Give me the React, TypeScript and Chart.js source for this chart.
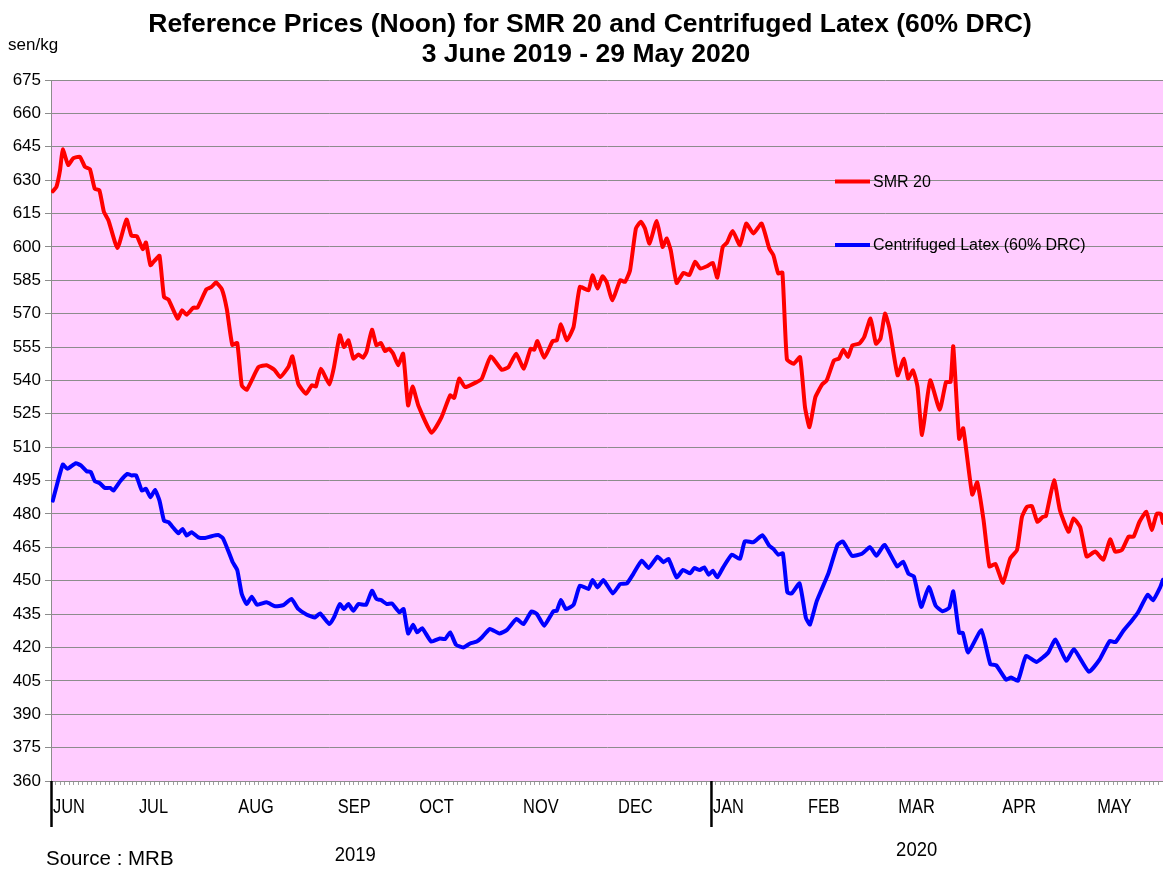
import React, { useEffect, useRef } from "react";
import { Chart, registerables } from "chart.js";

Chart.register(...registerables);

const TITLE_LINE_1 = "Reference Prices (Noon) for SMR 20 and Centrifuged Latex (60% DRC)";
const TITLE_LINE_2 = "3 June 2019 - 29 May 2020";
const UNIT_LABEL = "sen/kg";
const SOURCE_LABEL = "Source : MRB";

// x axis: trading-day index from 3 June 2019 (0) to 29 May 2020 (LAST_DAY)
const LAST_DAY = 246;
const MONTH_LABELS = ["JUN", "JUL", "AUG", "SEP", "OCT", "NOV", "DEC", "JAN", "FEB", "MAR", "APR", "MAY"];
const MONTH_START_DAYS = [0, 19, 41, 63, 81, 104, 125, 146, 167, 187, 210, 231];
const YEAR_LABELS = ["2019", "2020"];
const YEAR_LABEL_DAYS = [67.3, 191.5];
const YEAR_START_DAYS = [0, 146];

const Y_MIN = 360;
const Y_MAX = 675;
const Y_STEP = 15;

const SERIES_LABELS = ["SMR 20", "Centrifuged Latex (60% DRC)"];

const SMR_DAYS = [
  0.4, 1.2, 2.0, 2.6, 3.8, 4.9, 6.4, 7.5, 8.6, 9.7, 10.7, 11.7, 12.7, 14.7, 16.7, 17.8, 19.0, 20.3, 21.0, 22.0,
  23.0, 24.0, 25.0, 26.0, 28.0, 29.0, 30.0, 31.5, 32.4, 34.4, 35.5, 36.5, 37.8, 38.9, 40.1, 41.2, 42.2, 43.3,
  45.9, 47.7, 49.4, 50.7, 52.5, 53.4, 54.7, 56.4, 57.7, 58.6, 59.7, 61.6, 62.6, 63.9, 64.8, 65.8, 66.9, 68.0,
  69.0, 69.8, 71.0, 72.0, 73.0, 73.9, 74.8, 75.7, 76.8, 77.9, 79.0, 80.0, 81.3, 84.2, 86.4, 88.3, 89.2, 90.3,
  91.6, 94.2, 95.3, 97.3, 99.7, 101.2, 102.9, 104.6, 106.1, 106.9, 107.6, 109.1, 111.0, 111.9, 112.8, 114.1,
  115.6, 117.0, 118.9, 119.8, 120.9, 122.0, 122.9, 124.2, 125.9, 127.0, 128.1, 129.4, 130.5, 131.4, 132.4,
  134.0, 135.3, 136.2, 137.1, 138.4, 139.9, 141.2, 142.5, 143.6, 145.1, 146.4, 147.4, 148.6, 149.5, 150.8,
  152.4, 153.8, 155.4, 157.2, 158.9, 159.8, 160.9, 161.8, 162.8, 164.3, 165.7, 166.8, 167.8, 169.1, 170.6,
  171.6, 173.2, 174.3, 175.3, 176.3, 177.3, 178.8, 179.9, 181.3, 182.5, 183.5, 184.5, 185.5, 187.3, 188.7,
  189.6, 190.7, 191.7, 192.7, 194.5, 196.6, 198.0, 199.0, 199.6, 200.9, 201.8, 203.8, 204.9, 206.3, 207.6,
  208.9, 210.6, 212.2, 213.7, 214.8, 215.9, 217.0, 218.2, 219.4, 220.1, 221.9, 223.2, 225.1, 226.2, 227.7,
  229.1, 231.0, 232.8, 234.3, 235.4, 236.9, 238.4, 239.5, 240.8, 242.3, 243.5, 244.6, 245.5, 246.0,
];
const SMR_PRICES = [
  625, 627, 634.5, 643.8, 636.8, 639.8, 640.5, 636, 635, 626, 625.5, 615.8, 612, 599.5, 612.3, 605, 604.8, 599, 602, 591.8,
  594, 596, 577.5, 576.3, 567.8, 571.5, 569.5, 572.7, 572.7, 581, 582, 584, 581, 572, 556, 556.8, 537.8, 535.8,
  546, 546.8, 544.8, 541.5, 546, 550.8, 538.5, 534, 537.8, 537.3, 545.3, 538.2, 546, 560.3, 555, 558, 549.8, 551.7,
  550.2, 552.8, 562.8, 555.8, 556.8, 553.2, 554.3, 552, 546.8, 552, 528.8, 537.3, 528.5, 516.5, 523.5, 533.3, 532.2, 540.8,
  537, 539.3, 540.8, 550.8, 544.8, 546, 552, 545.3, 554.3, 553.8, 557.7, 550.2, 557.7, 558, 565.2, 558,
  564, 582, 580.5, 587.3, 581.3, 586.8, 584.3, 576, 585, 584.3, 589.5, 608.3, 611.3, 608.3, 601.5,
  611.7, 600, 603.8, 598.5, 583.8, 588.3, 587.3, 593.3, 590.3, 591.3, 592.8, 586.2, 600, 601.8, 607.2,
  600.8, 610.5, 606, 610.5, 599.3, 596.3, 588, 588.5, 549.5, 547.5, 550.5, 528, 519, 532.5, 538.2,
  540, 549, 549.8, 553.8, 550.5, 555.8, 556.5, 559.5, 567.8, 556.5, 558.8, 570, 563.3, 542.3, 549.8,
  540.8, 544.5, 537, 515.5, 540, 526.8, 539.3, 539.3, 555.3, 513.8, 518.5, 488.7, 494.2, 477.3, 456.4,
  457.6, 449, 460, 463.8, 478.7, 483.2, 483.5, 476.5, 478.7, 479, 495.1, 481.7, 472, 478, 474,
  460.9, 463.1, 459.4, 468.6, 463.1, 463.8, 469.8, 469.8, 476.5, 481, 472.8, 480, 480, 476,
];

const LATEX_DAYS = [
  0.4, 2.6, 3.6, 5.5, 6.6, 7.9, 8.8, 9.7, 10.8, 11.9, 13.1, 13.8, 15.3, 16.9, 17.8, 18.8, 20.1, 21.0, 22.0, 23.0,
  24.0, 25.0, 26.0, 27.1, 28.2, 29.1, 30.0, 31.1, 32.6, 34.1, 35.5, 37.0, 38.0, 39.2, 40.2, 41.2, 42.2, 43.3,
  44.4, 45.6, 47.7, 49.6, 51.4, 53.2, 54.7, 56.6, 58.4, 59.5, 61.6, 62.6, 63.9, 64.8, 65.8, 66.9, 68.0, 69.7,
  71.0, 72.0, 73.0, 74.3, 75.4, 77.1, 78.0, 79.0, 80.1, 81.0, 82.1, 84.1, 86.0, 87.2, 88.3, 89.6, 91.2, 92.7,
  94.2, 95.3, 97.1, 99.2, 100.8, 103.0, 104.5, 106.3, 107.5, 109.1, 111.1, 111.9, 112.8, 113.9, 115.6, 117.0,
  118.9, 119.8, 120.9, 122.2, 124.3, 125.9, 127.4, 128.8, 130.7, 132.2, 134.2, 135.5, 136.6, 138.4, 139.8,
  141.4, 142.3, 143.5, 144.5, 145.5, 146.4, 147.4, 148.7, 150.6, 152.4, 153.5, 155.4, 157.4, 158.9, 159.8,
  160.9, 161.9, 162.9, 163.9, 165.6, 167.0, 167.9, 169.4, 172.0, 174.0, 175.2, 177.2, 179.4, 181.2, 182.6,
  184.4, 187.2, 188.5, 189.7, 190.9, 192.5, 194.2, 195.7, 197.2, 198.7, 199.6, 200.9, 201.7, 202.9, 205.8,
  207.8, 209.1, 211.3, 212.4, 213.9, 215.7, 218.0, 220.6, 222.2, 224.6, 226.3, 229.6, 232.0, 234.2, 235.5,
  237.2, 239.0, 240.5, 242.6, 243.8, 245.3, 246.0,
];
const LATEX_PRICES = [
  486, 502.2, 500.3, 502.8, 501.8, 499.2, 498.8, 494.7, 493.8, 491.7, 491.7, 490.5, 494.7, 498, 497.3, 497.4, 490.5, 491.3, 487.5, 490.8,
  486, 477, 476.3, 473.7, 471.3, 473.3, 470.3, 471.8, 469.5, 469.2, 470, 470.5, 469.2, 463.5, 458.3, 454.8, 444, 439.5,
  442.8, 439.2, 440.3, 438.5, 439, 441.8, 437.3, 434.7, 433.5, 435.3, 430.5, 433.5, 439.5, 437.3, 439.5, 436.5, 439.5, 439.2,
  445.5, 441.8, 441.3, 439.5, 439.8, 435.8, 437.3, 426.3, 430.2, 426.8, 428.7, 422.7, 424, 423.8, 426.8, 421.2, 420, 421.8,
  422.7, 424.5, 428.3, 426.3, 427.8, 432.8, 430.5, 436.2, 435, 429.8, 436.2, 436.5, 441.3, 437.3, 439.2, 447.8,
  446.3, 450.3, 447, 450.3, 444.3, 448.5, 448.8, 453, 459, 455.7, 460.8, 458.3, 459.8, 451.5, 454.8,
  453.3, 455.7, 454.8, 456, 452.7, 454.5, 451.5, 456, 461.7, 459.8, 467.7, 467.3, 470.4, 465.7, 464.3,
  461.7, 462.3, 444.8, 444.3, 448.8, 433.3, 430.3, 440.8, 453.4, 466.1, 467.6, 461.2, 462.1, 465.1, 461.2,
  466.1, 456.4, 458.6, 453.1, 451.9, 438.2, 447.2, 438.8, 436.3, 437.8, 445.2, 426.6, 426.6, 417.7, 427.8,
  412.5, 412, 405.5, 406.5, 405, 416.2, 413.5, 417.7, 423.6, 414, 419.2, 409.1, 414.7, 422.9, 422.4,
  427.4, 431.8, 435.8, 443.7, 441.2, 446.7, 450.4,
];

const FONT = "'Liberation Sans', Arial, Helvetica, sans-serif";
const PLOT_BG = "#FFCCFF";
const GRID = "#8c8c8c";
const SERIES_COLORS = ["#FF0000", "#0000FF"];

function narrowText(ctx: any, text: string, x: number, y: number, size: number, squeeze: number, align: string) {
  ctx.save();
  ctx.font = `${size}px ${FONT}`;
  ctx.textAlign = align;
  ctx.textBaseline = "alphabetic";
  ctx.translate(x, y);
  ctx.scale(squeeze, 1);
  ctx.fillText(text, 0, 0);
  ctx.restore();
}

const decorPlugin = {
  id: "decor",
  beforeDraw(chart: any) {
    const { ctx, chartArea } = chart;
    ctx.save();
    ctx.fillStyle = PLOT_BG;
    ctx.fillRect(chartArea.left, chartArea.top, chartArea.right - chartArea.left, chartArea.bottom - chartArea.top);
    ctx.restore();
  },
  afterDraw(chart: any) {
    const { ctx, chartArea } = chart;
    const xs = chart.scales.x;
    ctx.save();
    ctx.fillStyle = "#000";
    // titles
    ctx.textAlign = "center";
    ctx.textBaseline = "alphabetic";
    ctx.font = `bold 26.5px ${FONT}`;
    ctx.fillText(TITLE_LINE_1, 590, 32);
    ctx.fillText(TITLE_LINE_2, 586, 62);
    // unit
    ctx.textAlign = "left";
    ctx.font = `17px ${FONT}`;
    ctx.fillText(UNIT_LABEL, 8, 50);
    // source
    ctx.font = `20.5px ${FONT}`;
    ctx.fillText(SOURCE_LABEL, 46, 865);
    // month labels
    MONTH_LABELS.forEach((m, i) => {
      narrowText(ctx, m, xs.getPixelForValue(MONTH_START_DAYS[i]) + 2, 813, 20, 0.82, "left");
    });
    // year labels
    narrowText(ctx, YEAR_LABELS[0], xs.getPixelForValue(YEAR_LABEL_DAYS[0]), 861, 20.5, 0.9, "center");
    narrowText(ctx, YEAR_LABELS[1], xs.getPixelForValue(YEAR_LABEL_DAYS[1]), 856, 20.5, 0.9, "center");
    // year separators
    ctx.strokeStyle = "#000";
    ctx.lineWidth = 2.5;
    YEAR_START_DAYS.forEach((d) => {
      const px = xs.getPixelForValue(d) + 0.5;
      ctx.beginPath();
      ctx.moveTo(px, chartArea.bottom);
      ctx.lineTo(px, 827);
      ctx.stroke();
    });
    // legend
    const legendY = [181.5, 245];
    ctx.textAlign = "left";
    ctx.textBaseline = "middle";
    ctx.font = `16px ${FONT}`;
    SERIES_LABELS.forEach((lab, i) => {
      ctx.strokeStyle = SERIES_COLORS[i];
      ctx.lineWidth = 4;
      ctx.beginPath();
      ctx.moveTo(835, legendY[i]);
      ctx.lineTo(870, legendY[i]);
      ctx.stroke();
      ctx.fillStyle = "#000";
      ctx.fillText(lab, 873, legendY[i] + 1);
    });
    ctx.restore();
  },
};

export default function App() {
  const canvasRef = useRef<HTMLCanvasElement>(null);

  useEffect(() => {
    const canvas = canvasRef.current;
    if (!canvas) return;
    const chart = new Chart(canvas, {
      type: "line",
      data: {
        datasets: [
          {
            label: SERIES_LABELS[0],
            data: SMR_DAYS.map((d, i) => ({ x: d, y: SMR_PRICES[i] })),
            borderColor: SERIES_COLORS[0],
            backgroundColor: SERIES_COLORS[0],
            borderWidth: 4,
            pointRadius: 0,
            tension: 0.15,
            borderJoinStyle: "round",
            borderCapStyle: "round",
          },
          {
            label: SERIES_LABELS[1],
            data: LATEX_DAYS.map((d, i) => ({ x: d, y: LATEX_PRICES[i] })),
            borderColor: SERIES_COLORS[1],
            backgroundColor: SERIES_COLORS[1],
            borderWidth: 4,
            pointRadius: 0,
            tension: 0.15,
            borderJoinStyle: "round",
            borderCapStyle: "round",
          },
        ],
      },
      options: {
        responsive: false,
        animation: false,
        devicePixelRatio: 1,
        layout: { padding: { top: 80, left: 0, right: 0, bottom: 0 } },
        plugins: {
          legend: { display: false },
          title: { display: false },
          tooltip: { enabled: false },
        },
        scales: {
          x: {
            type: "linear",
            min: 0,
            max: LAST_DAY,
            afterFit: (s: any) => {
              s.height = 88;
              s.paddingLeft = 0;
              s.paddingRight = 0;
            },
            ticks: {
              stepSize: 1,
              autoSkip: false,
              maxRotation: 0,
              minRotation: 0,
              padding: 0,
              font: { family: FONT, size: 10 },
              callback: () => "",
            },
            grid: { drawOnChartArea: false, drawTicks: true, tickLength: 4, color: "#a0a0a0" },
            border: { display: true, color: GRID },
          },
          y: {
            min: Y_MIN,
            max: Y_MAX,
            afterFit: (s: any) => {
              s.width = 51;
            },
            ticks: {
              stepSize: Y_STEP,
              padding: 4,
              color: "#000",
              font: { family: FONT, size: 17 },
            },
            grid: { color: GRID, tickLength: 6 },
            border: { display: true, color: GRID },
          },
        },
      },
      plugins: [decorPlugin],
    } as any);
    return () => chart.destroy();
  }, []);

  return (
    <div style={{ position: "absolute", left: 0, top: 0, width: 1163, height: 869, background: "#fff" }}>
      <canvas ref={canvasRef} width={1163} height={869} style={{ display: "block" }} />
    </div>
  );
}
